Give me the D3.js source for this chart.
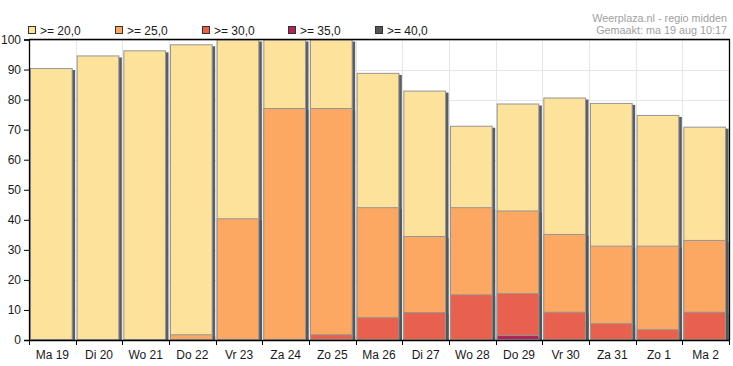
<!DOCTYPE html>
<html><head><meta charset="utf-8">
<script src="https://cdn.jsdelivr.net/npm/d3@7/dist/d3.min.js"></script>
<style>body{margin:0;background:#fff;} text{font-family:"Liberation Sans",Arial,sans-serif;}</style>
</head><body><svg id="c" width="733" height="366"></svg>
<script>
const categories = ["Ma 19","Di 20","Wo 21","Do 22","Vr 23","Za 24","Zo 25","Ma 26","Di 27","Wo 28","Do 29","Vr 30","Za 31","Zo 1","Ma 2"];
const seriesNames = [">= 20,0", ">= 25,0", ">= 30,0", ">= 35,0", ">= 40,0"];
const s20 = [90.5, 94.7, 96.4, 98.4, 100, 100, 100, 88.9, 83, 71.3, 78.7, 80.7, 78.9, 74.9, 71];
const s25 = [0, 0, 0, 1.9, 40.5, 77.2, 77.2, 44.2, 34.6, 44.2, 43.1, 35.3, 31.4, 31.4, 33.3];
const s30 = [0, 0, 0, 0, 0, 0, 1.9, 7.6, 9.3, 15.2, 15.6, 9.4, 5.6, 3.6, 9.4];
const s35 = [0, 0, 0, 0, 0, 0, 0, 0, 0, 0, 1.7, 0, 0, 0, 0];
const s40 = [0, 0, 0, 0, 0, 0, 0, 0, 0, 0, 0, 0, 0, 0, 0];
const yTicks = [0,10,20,30,40,50,60,70,80,90,100];
const colors = ["#fde29b", "#fca862", "#e8614f", "#b0245a", "#555555"];
const allSeries = [s20, s25, s30, s35, s40];

const svg = d3.select("#c");
const L = 29, R = 729, T = 39.5, B = 340;
const x = d3.scaleBand().domain(categories).range([L, R]).padding(0);
const y = d3.scaleLinear().domain([0, 100]).range([B, T]);

// grid
const g = svg.append("g");
g.selectAll(".hg").data(yTicks).enter().append("line")
  .attr("x1", L).attr("x2", R).attr("y1", d => Math.round(y(d)) + 0.5).attr("y2", d => Math.round(y(d)) + 0.5)
  .attr("stroke", "#e6e6e6");
g.selectAll(".vg").data(categories).enter().append("line")
  .attr("x1", d => Math.round(x(d)) + 0.5).attr("x2", d => Math.round(x(d)) + 0.5)
  .attr("y1", T).attr("y2", B).attr("stroke", "#e6e6e6");

// bars
const bw = x.bandwidth();
allSeries.forEach((ser, si) => {
  const grp = svg.append("g");
  categories.forEach((c, i) => {
    const v = ser[i];
    if (v <= 0) return;
    const x0 = x(c) + 1, w = bw - 4;
    const yt = y(v);
    grp.append("rect").attr("x", x0 + 2.5).attr("y", yt + 2).attr("width", w).attr("height", B - yt - 2)
      .attr("fill", "#555").attr("opacity", 0.95);
    grp.append("rect").attr("x", x0 + 0.5).attr("y", yt + 0.5).attr("width", w - 1).attr("height", Math.max(0, B - yt - 1))
      .attr("fill", colors[si]).attr("stroke", "#959595").attr("stroke-width", 1);
  });
});

// frame
svg.append("path").attr("d", `M${L},${T}H${R + 0.5}V${B}`).attr("fill", "none").attr("stroke", "#000").attr("stroke-width", 1.3);

// axes
const ya = svg.append("g").attr("transform", `translate(${L},0)`)
  .call(d3.axisLeft(y).tickValues(yTicks).tickSize(5).tickPadding(3).tickFormat(d3.format("d")));
ya.select(".domain").attr("stroke", "#000").attr("stroke-width", 1.3);
ya.selectAll("text").attr("font-size", 12).attr("fill", "#1a1a1a").style("font-family", "Liberation Sans, Arial, sans-serif");

const xa = svg.append("g").attr("transform", `translate(0,${B})`)
  .call(d3.axisBottom(x).tickSize(0).tickPadding(10));
xa.select(".domain").attr("stroke", "#000").attr("stroke-width", 1.5);
xa.selectAll("text").attr("font-size", 12).attr("fill", "#1a1a1a").style("font-family", "Liberation Sans, Arial, sans-serif");
const bounds = categories.map(c => x(c)).concat([R]);
svg.append("g").selectAll("line").data(bounds).enter().append("line")
  .attr("x1", d => Math.round(d) + 0.5).attr("x2", d => Math.round(d) + 0.5)
  .attr("y1", B).attr("y2", B + 5).attr("stroke", "#000");

// legend
const lg = svg.append("g");
seriesNames.forEach((n, i) => {
  const lx = 28 + i * 86.8;
  lg.append("rect").attr("x", Math.round(lx) + 0.5).attr("y", 26.5).attr("width", 7).attr("height", 7)
    .attr("fill", colors[i]).attr("stroke", "#333");
  lg.append("text").attr("x", Math.round(lx) + 12).attr("y", 34.5).attr("font-size", 12).attr("fill", "#1a1a1a").text(n);
});

// credits
svg.append("text").attr("x", 727).attr("y", 21.5).attr("text-anchor", "end").attr("font-size", 10.8).attr("fill", "#a0a0a0").text("Weerplaza.nl - regio midden");
svg.append("text").attr("x", 727).attr("y", 34).attr("text-anchor", "end").attr("font-size", 10.8).attr("fill", "#a0a0a0").text("Gemaakt: ma 19 aug 10:17");
</script></body></html>
